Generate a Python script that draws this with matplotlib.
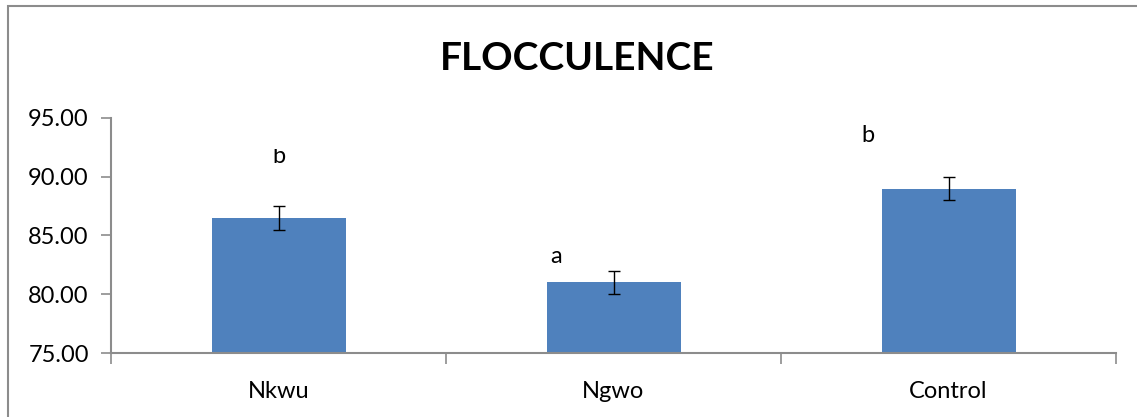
import matplotlib
matplotlib.use("Agg")
import matplotlib.pyplot as plt
from matplotlib.patches import Rectangle
from matplotlib.transforms import Bbox, TransformedBbox

# data
categories = ["Nkwu", "Ngwo", "Control"]
values = [86.5, 81.0, 89.0]
errors = [1.0, 1.0, 1.0]
letters = ["b", "a", "b"]
letter_x = [0.0, 0.83, 1.76]
letter_y = [91.2, 82.7, 93.0]

plt.rcParams['font.family'] = ['Lato', 'DejaVu Sans']

fig = plt.figure(figsize=(11.37, 4.17), dpi=100)
ax = fig.add_axes([111 / 1137, 1 - 353 / 417, 1005 / 1137, 235 / 417])

x_pos = list(range(len(categories)))
ax.bar(x_pos, values, width=0.4, color="#4F81BD", zorder=2)
ax.errorbar(x_pos, values, yerr=errors, fmt="none", ecolor="black",
            elinewidth=1.0, capsize=4.3, capthick=1.0, zorder=3)

ax.set_ylim(75, 95)
ax.set_xlim(-0.5, 2.5)
ax.set_yticks([75, 80, 85, 90, 95])
ax.set_yticklabels([f"{v:.2f}" for v in [75, 80, 85, 90, 95]], fontsize=17)

# boundary ticks as major, labels on minor
ax.set_xticks([-0.5, 0.5, 1.5, 2.5])
ax.set_xticklabels([])
ax.set_xticks(x_pos, minor=True)
ax.set_xticklabels(categories, minor=True, fontsize=17)
ax.tick_params(axis="x", which="minor", length=0, pad=20)
ax.tick_params(axis="x", which="major", length=8, width=1.2, color="#8C8C8C")
ax.tick_params(axis="y", length=7, width=1.2, color="#8C8C8C", pad=9)

for side in ["top", "right"]:
    ax.spines[side].set_visible(False)
for side in ["left", "bottom"]:
    ax.spines[side].set_color("#8C8C8C")
    ax.spines[side].set_linewidth(1.5)

# significance letters
for i, (lx, ly, lt) in enumerate(zip(letter_x, letter_y, letters)):
    t = ax.text(lx, ly, lt, ha="center", va="baseline", fontsize=17)
    if i == 0:
        # the first letter is cut at the top in the original
        t.set_clip_box(TransformedBbox(Bbox([[-0.5, 75], [2.5, 92.32]]), ax.transData))
        t.set_clip_on(True)

fig.text(577 / 1137, 1 - 58 / 417, "FLOCCULENCE", ha="center", va="center",
         fontsize=28, fontweight="bold")

# outer chart border
fig.patches.append(Rectangle((8 / 1137, -0.2), 1.2, 1.2 - 6 / 417,
                             transform=fig.transFigure, fill=False,
                             edgecolor="#8C8C8C", linewidth=1.5))

fig.savefig("out.png", dpi=100)
